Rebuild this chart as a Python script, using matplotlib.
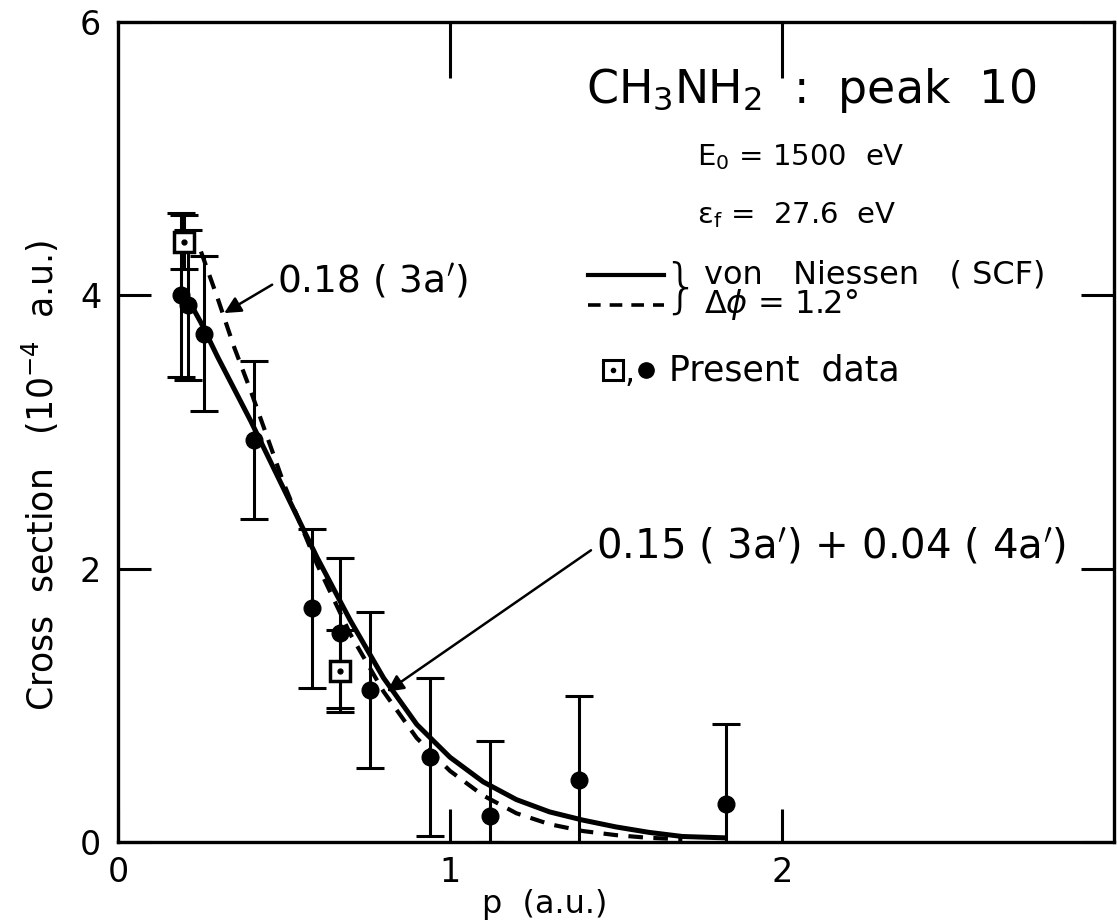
import matplotlib
matplotlib.use("Agg")
import matplotlib.pyplot as plt
import numpy as np

plt.rcParams['font.family'] = ['DejaVu Sans']
plt.rcParams['mathtext.fontset'] = 'dejavusans'

# measured points (filled circles)
p_dots = [0.19, 0.21, 0.26, 0.41, 0.585, 0.67, 0.76, 0.94, 1.12, 1.39, 1.83]
cs_dots = [4.00, 3.93, 3.72, 2.94, 1.71, 1.53, 1.11, 0.62, 0.19, 0.45, 0.28]
err_lo = [0.60, 0.55, 0.57, 0.58, 0.58, 0.55, 0.57, 0.58, 0.19, 0.60, 0.28]
err_hi = [0.60, 0.55, 0.57, 0.58, 0.58, 0.55, 0.57, 0.58, 0.55, 0.62, 0.58]

# measured points (open squares)
p_sq = [0.20, 0.67]
cs_sq = [4.39, 1.25]
err_sq = [0.20, 0.30]

# von Niessen SCF
p_scf = [0.20, 0.25, 0.30, 0.40, 0.50, 0.60, 0.70, 0.80, 0.90, 1.00, 1.10,
         1.20, 1.30, 1.40, 1.50, 1.60, 1.70, 1.83]
cs_scf = [4.02, 3.80, 3.55, 3.08, 2.58, 2.08, 1.62, 1.20, 0.86, 0.62, 0.44,
          0.31, 0.22, 0.16, 0.11, 0.07, 0.04, 0.03]

# with delta phi = 1.2 deg
p_dphi = [0.25, 0.30, 0.35, 0.40, 0.50, 0.60, 0.70, 0.80, 0.90, 1.00, 1.10,
          1.20, 1.30, 1.40, 1.50, 1.60, 1.70]
cs_dphi = [4.32, 3.98, 3.62, 3.30, 2.62, 2.03, 1.52, 1.10, 0.76, 0.52, 0.34,
           0.21, 0.13, 0.08, 0.05, 0.03, 0.02]

x_ticks = [0, 1, 2]
y_ticks = [0, 2, 4, 6]

fig = plt.figure(figsize=(11.17, 9.23), dpi=100)
ax = fig.add_axes([0.1056, 0.0878, 0.8917, 0.8884])

ax.plot(p_scf, cs_scf, color='black', lw=3.6, solid_capstyle='butt')
ax.plot(p_dphi, cs_dphi, color='black', lw=3.0, ls=(0, (3.5, 2.5)))

ax.errorbar(p_dots, cs_dots, yerr=[err_lo, err_hi], fmt='o', color='black',
            ms=12, elinewidth=2.2, capsize=10, capthick=2.2)
ax.errorbar(p_sq, cs_sq, yerr=err_sq, fmt='none', ecolor='black',
            elinewidth=2.2, capsize=10, capthick=2.2)
ax.plot(p_sq, cs_sq, ls='none', marker='s', ms=15, mfc='white',
        mec='black', mew=2.5)
ax.plot(p_sq, cs_sq, ls='none', marker='o', ms=3.5, color='black')

ax.set_xlim(0, 3)
ax.set_ylim(0, 6)
ax.set_xticks(x_ticks)
ax.set_xticklabels([str(t) for t in x_ticks])
ax.set_yticks(y_ticks)
ax.set_yticklabels([str(t) for t in y_ticks])
ax.tick_params(direction='in', length=24, width=2.2, labelsize=24,
               right=True, pad=12)
ax.tick_params(axis='x', pad=10)
top = ax.secondary_xaxis('top')
top.set_xticks([1, 2])
top.tick_params(direction='in', length=40, width=2.2, labeltop=False)
top.spines['top'].set_visible(False)
for s in ax.spines.values():
    s.set_linewidth(2.4)

fig.text(0.036, 0.485, 'Cross  section   (10$^{-4}$  a.u.)', rotation=90,
         ha='center', va='center', fontsize=25)
fig.text(0.488, 0.02, 'p  (a.u.)', ha='center', va='center', fontsize=23)

# annotations
ax.text(1.41, 5.50, 'CH$_3$NH$_2$  :  peak  10', fontsize=33, ha='left', va='center')
ax.text(1.745, 5.01, 'E$_0$ = 1500  eV', fontsize=21, ha='left', va='center')
ax.text(1.745, 4.59, 'ε$_{\\rm f}$ =  27.6  eV', fontsize=21, ha='left', va='center')

ax.plot([1.415, 1.645], [4.15, 4.15], color='black', lw=3.0, clip_on=False)
ax.plot([1.415, 1.645], [3.93, 3.93], color='black', lw=2.6,
        ls=(0, (3.5, 2.5)), clip_on=False)
ax.text(1.64, 4.04, '}', fontsize=42, ha='left', va='center',
        fontweight='light')
ax.text(1.765, 4.15, 'von   Niessen   ( SCF)', fontsize=23, ha='left', va='center')
ax.text(1.765, 3.93, '$\\Delta\\phi$ = 1.2°', fontsize=23, ha='left', va='center')

ax.plot([1.49], [3.45], marker='s', ms=14, mfc='white', mec='black', mew=2.2)
ax.plot([1.49], [3.45], marker='o', ms=3, color='black')
ax.text(1.525, 3.43, ',', fontsize=23, ha='left', va='center')
ax.plot([1.59], [3.45], marker='o', ms=11, color='black')
ax.text(1.66, 3.45, 'Present  data', fontsize=25, ha='left', va='center')

ax.annotate('0.18 ( 3a$^{\\prime}$)', xy=(0.32, 3.87), xytext=(0.48, 4.10),
            fontsize=27, ha='left', va='center',
            arrowprops=dict(arrowstyle='-|>', color='black', lw=1.8,
                            mutation_scale=25, shrinkA=2, shrinkB=0,
                            relpos=(0, 0.5)))
ax.annotate('0.15 ( 3a$^{\\prime}$) + 0.04 ( 4a$^{\\prime}$)', xy=(0.81, 1.10),
            xytext=(1.44, 2.16), fontsize=29, ha='left', va='center',
            arrowprops=dict(arrowstyle='-|>', color='black', lw=1.8,
                            mutation_scale=25, shrinkA=2, shrinkB=0,
                            relpos=(0, 0.5)))

fig.savefig('out.png', dpi=100)
